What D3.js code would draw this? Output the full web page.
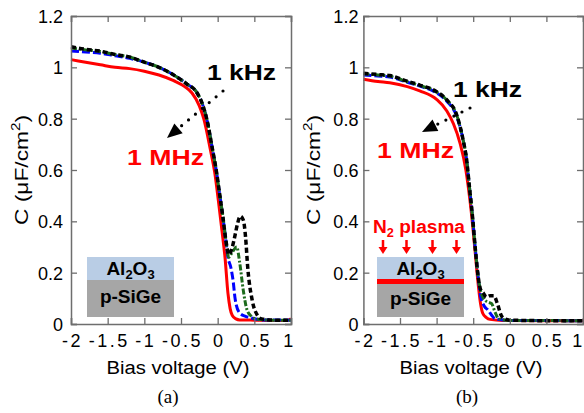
<!DOCTYPE html>
<html>
<head>
<meta charset="utf-8">
<script src="https://cdn.jsdelivr.net/npm/d3@7"></script>
<style>
  body { margin: 0; background: #fff; }
  svg { font-family: "Liberation Sans", Arial, sans-serif; }
</style>
</head>
<body>
<svg id="chart" width="584" height="413"></svg>
<script>
// Axis ticks shared by both panels
const xTicks = [-2, -1.5, -1, -0.5, 0, 0.5, 1];
const xTickLabels = ["-2", "-1.5", "-1", "-0.5", "0", "0.5", "1"];
const yTicks = [0, 0.2, 0.4, 0.6, 0.8, 1, 1.2];
const yTickLabels = ["0", "0.2", "0.4", "0.6", "0.8", "1", "1.2"];

// Panel (a): as-deposited Al2O3 / p-SiGe, C-V at four frequencies [bias V, C µF/cm²]
const aRed = [[-2,1.03],[-1.8,1.02],[-1.6,1.01],[-1.4,1.0],[-1.2,0.995],[-1.0,0.985],[-0.8,0.97],[-0.6,0.948],[-0.45,0.925],[-0.35,0.9],[-0.25,0.85],[-0.19,0.8],[-0.1,0.68],[-0.04,0.59],[0.01,0.48],[0.06,0.36],[0.1,0.26],[0.14,0.12],[0.17,0.06],[0.2,0.033],[0.25,0.02],[0.3,0.016],[0.5,0.015],[0.8,0.014],[0.95,0.014],[1.0,0.02]];
const aBlue = [[-2,1.064],[-1.8,1.06],[-1.6,1.055],[-1.4,1.045],[-1.2,1.035],[-1.0,1.02],[-0.8,1.0],[-0.6,0.97],[-0.42,0.935],[-0.28,0.9],[-0.2,0.85],[-0.15,0.8],[-0.07,0.68],[-0.02,0.6],[0.03,0.5],[0.07,0.42],[0.11,0.33],[0.14,0.26],[0.18,0.22],[0.21,0.17],[0.24,0.094],[0.3,0.043],[0.38,0.03],[0.44,0.025],[0.6,0.016],[1.0,0.015]];
const aGreen = [[-2,1.075],[-1.8,1.068],[-1.6,1.062],[-1.4,1.05],[-1.2,1.04],[-1.0,1.02],[-0.8,1.0],[-0.6,0.97],[-0.42,0.935],[-0.28,0.9],[-0.2,0.85],[-0.15,0.8],[-0.07,0.68],[-0.02,0.6],[0.03,0.5],[0.07,0.42],[0.11,0.33],[0.15,0.26],[0.2,0.28],[0.26,0.3],[0.3,0.24],[0.35,0.13],[0.4,0.055],[0.46,0.03],[0.52,0.02],[0.7,0.015],[1.0,0.015]];
const aBlack = [[-2,1.08],[-1.8,1.07],[-1.6,1.063],[-1.4,1.05],[-1.2,1.04],[-1.0,1.02],[-0.8,1.0],[-0.6,0.97],[-0.42,0.935],[-0.28,0.9],[-0.2,0.85],[-0.15,0.8],[-0.07,0.68],[-0.02,0.6],[0.03,0.5],[0.07,0.42],[0.11,0.33],[0.155,0.27],[0.2,0.3],[0.24,0.35],[0.27,0.39],[0.31,0.42],[0.35,0.405],[0.38,0.34],[0.41,0.22],[0.47,0.094],[0.54,0.035],[0.6,0.02],[0.8,0.015],[1.0,0.015]];

// Panel (b): N2-plasma treated interface
const bRed = [[-2,0.954],[-1.8,0.945],[-1.64,0.94],[-1.4,0.925],[-1.23,0.908],[-1.0,0.875],[-0.86,0.83],[-0.77,0.78],[-0.68,0.705],[-0.6,0.6],[-0.57,0.54],[-0.52,0.42],[-0.47,0.27],[-0.43,0.15],[-0.4,0.08],[-0.37,0.042],[-0.32,0.025],[-0.27,0.018],[-0.1,0.014],[0.5,0.013],[1.0,0.013]];
const bBlue = [[-2,0.97],[-1.8,0.966],[-1.64,0.962],[-1.4,0.942],[-1.23,0.927],[-1.0,0.9],[-0.86,0.868],[-0.72,0.805],[-0.64,0.72],[-0.59,0.64],[-0.55,0.53],[-0.51,0.42],[-0.47,0.29],[-0.43,0.18],[-0.4,0.11],[-0.35,0.07],[-0.3,0.055],[-0.25,0.035],[-0.2,0.02],[0,0.014],[1.0,0.013]];
const bGreen = [[-2,0.975],[-1.8,0.97],[-1.64,0.966],[-1.4,0.944],[-1.23,0.929],[-1.0,0.904],[-0.86,0.872],[-0.72,0.81],[-0.64,0.72],[-0.59,0.64],[-0.55,0.53],[-0.51,0.42],[-0.47,0.29],[-0.43,0.18],[-0.4,0.13],[-0.36,0.1],[-0.3,0.085],[-0.25,0.08],[-0.2,0.045],[-0.15,0.02],[0,0.014],[1.0,0.013]];
const bBlack = [[-2,0.977],[-1.8,0.972],[-1.64,0.968],[-1.4,0.946],[-1.23,0.931],[-1.0,0.905],[-0.86,0.873],[-0.72,0.81],[-0.64,0.72],[-0.59,0.64],[-0.55,0.53],[-0.51,0.42],[-0.47,0.29],[-0.43,0.18],[-0.4,0.135],[-0.36,0.12],[-0.32,0.105],[-0.27,0.11],[-0.22,0.11],[-0.17,0.08],[-0.12,0.035],[-0.07,0.02],[0,0.015],[0.5,0.013],[1.0,0.013]];

// Line styles, drawn high to low frequency so the 1 kHz curve sits on top
const seriesStyles = [
  { color: "#ff0000", dash: null,        width: 3 },
  { color: "#0000ff", dash: "8,3",       width: 3 },
  { color: "#1c6b1c", dash: "6,2,2,2",   width: 3 },
  { color: "#000000", dash: "5,3",       width: 3.5 }
];

const svg = d3.select("#chart");

function drawPanel(opt) {
  const x = d3.scaleLinear().domain([-2, 1]).range([opt.left, opt.right]);
  const y = d3.scaleLinear().domain([0, 1.2]).range([324, 16]);
  const g = svg.append("g");

  // Curves
  const line = d3.line().x(d => x(d[0])).y(d => y(d[1])).curve(d3.curveMonotoneX);
  opt.series.forEach((s, i) => {
    const st = seriesStyles[i];
    g.append("path").datum(s)
      .attr("d", line)
      .attr("fill", "none")
      .attr("stroke", st.color)
      .attr("stroke-width", st.width)
      .attr("stroke-dasharray", st.dash)
      .attr("stroke-linejoin", "round");
  });

  // Boxed frame with inward ticks
  const frameColor = "#6e6e6e";
  const styleAxis = sel => {
    sel.selectAll("path.domain").attr("stroke", frameColor).attr("stroke-width", 1.5);
    sel.selectAll(".tick line").attr("stroke", frameColor).attr("stroke-width", 1.3);
  };
  const bottom = g.append("g").attr("transform", `translate(0,${y(0)})`)
    .call(d3.axisBottom(x).tickValues(xTicks).tickSize(-6).tickPadding(10)
      .tickFormat((d, i) => xTickLabels[i]));
  bottom.call(styleAxis);
  bottom.selectAll("text").attr("font-size", 18).attr("fill", "#000")
    .style("letter-spacing", "2.5px")
    .attr("dx", (d, i) => i === xTicks.length - 1 ? opt.lastLabelDx : 1)
    .attr("y", 23).attr("dy", 0);
  g.append("g").attr("transform", `translate(0,${y(1.2)})`)
    .call(d3.axisTop(x).tickValues(xTicks).tickSize(-6).tickFormat(""))
    .call(styleAxis);
  const left = g.append("g").attr("transform", `translate(${x(-2)},0)`)
    .call(d3.axisLeft(y).tickValues(yTicks).tickSize(-6).tickPadding(opt.yPad)
      .tickFormat((d, i) => yTickLabels[i]));
  left.call(styleAxis);
  left.selectAll("text").attr("font-size", 18).attr("fill", "#000").attr("dy", "0.36em");
  g.append("g").attr("transform", `translate(${x(1)},0)`)
    .call(d3.axisRight(y).tickValues(yTicks).tickSize(-6).tickFormat(""))
    .call(styleAxis);
  g.selectAll(".tick text").style("font-family", "'Liberation Sans', Arial, sans-serif");

  // Axis titles
  g.append("text")
    .attr("x", opt.xTitleX).attr("y", 374)
    .attr("text-anchor", "middle").attr("font-size", 18)
    .attr("textLength", 143).attr("lengthAdjust", "spacingAndGlyphs")
    .text("Bias voltage (V)");
  const yt = g.append("text")
    .attr("transform", `translate(${opt.yTitleX},170) rotate(-90)`)
    .attr("text-anchor", "middle").attr("font-size", 18)
    .attr("textLength", 110).attr("lengthAdjust", "spacingAndGlyphs");
  yt.append("tspan").text("C (\u03bcF/cm");
  yt.append("tspan").attr("font-size", 12).attr("dy", -8).text("2");
  yt.append("tspan").attr("dy", 8).text(")");

  // Caption
  g.append("text")
    .attr("x", opt.captionX).attr("y", 403)
    .attr("text-anchor", "middle")
    .style("font-family", "'Liberation Serif', 'Times New Roman', serif")
    .attr("font-size", 19)
    .text(opt.caption);

  // Frequency labels and dotted arrow (1 kHz -> 1 MHz)
  g.append("text").attr("x", opt.kHz[0]).attr("y", opt.kHz[1])
    .attr("font-size", 22).attr("font-weight", "bold").attr("fill", "#000")
    .attr("textLength", 69).attr("lengthAdjust", "spacingAndGlyphs")
    .text("1 kHz");
  g.append("text").attr("x", opt.MHz[0]).attr("y", opt.MHz[1])
    .attr("font-size", 22).attr("font-weight", "bold").attr("fill", "#ff0000")
    .attr("textLength", 77).attr("lengthAdjust", "spacingAndGlyphs")
    .text("1 MHz");

  const [t0, t1] = opt.arrowTail, [h0, h1] = opt.arrowTip;
  const dx = h0 - t0, dy = h1 - t1, len = Math.hypot(dx, dy);
  const ux = dx / len, uy = dy / len, headL = 15, headW = 6.5;
  const bx = h0 - ux * headL, by = h1 - uy * headL;
  g.append("line")
    .attr("x1", t0).attr("y1", t1).attr("x2", bx).attr("y2", by)
    .attr("stroke", "#000").attr("stroke-width", 3.2)
    .attr("stroke-linecap", "round").attr("stroke-dasharray", "0,9");
  g.append("polygon")
    .attr("points", [[h0, h1], [bx - uy * headW, by + ux * headW], [bx + uy * headW, by - ux * headW]].map(p => p.join(",")).join(" "))
    .attr("fill", "#000");

  // Stack inset
  const ix = opt.insetX, iw = 87;
  g.append("rect").attr("x", ix).attr("y", 257).attr("width", iw).attr("height", 23).attr("fill", "#b9cde5");
  g.append("rect").attr("x", ix).attr("y", 280).attr("width", iw).attr("height", 37).attr("fill", "#a6a6a6");
  if (opt.plasma) {
    g.append("rect").attr("x", ix).attr("y", 279).attr("width", iw).attr("height", 5).attr("fill", "#ff0000");
    const pl = g.append("text").attr("x", ix - 4).attr("y", 233)
      .attr("font-size", 18).attr("font-weight", "bold").attr("fill", "#ff0000")
      .attr("textLength", 92).attr("lengthAdjust", "spacingAndGlyphs");
    pl.append("tspan").text("N");
    pl.append("tspan").attr("font-size", 12).attr("dy", 4).text("2");
    pl.append("tspan").attr("dy", -4).text(" plasma");
    [6, 29.5, 55.5, 79.5].forEach(off => {
      const ax = ix + off;
      g.append("line").attr("x1", ax).attr("y1", 240).attr("x2", ax).attr("y2", 248)
        .attr("stroke", "#ff0000").attr("stroke-width", 2.5);
      g.append("polygon")
        .attr("points", `${ax - 4.5},247 ${ax + 4.5},247 ${ax},254`)
        .attr("fill", "#ff0000");
    });
  }
  const al = g.append("text").attr("x", ix + iw / 2).attr("y", 275)
    .attr("text-anchor", "middle").attr("font-size", 19).attr("font-weight", "bold");
  al.append("tspan").text("Al");
  al.append("tspan").attr("font-size", 13).attr("dy", 4).text("2");
  al.append("tspan").attr("dy", -4).text("O");
  al.append("tspan").attr("font-size", 13).attr("dy", 4).text("3");
  g.append("text").attr("x", ix + iw / 2).attr("y", opt.plasma ? 305 : 303)
    .attr("text-anchor", "middle").attr("font-size", 19).attr("font-weight", "bold")
    .text("p-SiGe");
}

drawPanel({
  left: 71, right: 291, yPad: 8, series: [aRed, aBlue, aGreen, aBlack],
  xTitleX: 178, yTitleX: 28, caption: "(a)", captionX: 168, lastLabelDx: -2,
  kHz: [207, 80], MHz: [127, 165], arrowTail: [223, 91], arrowTip: [167, 138],
  insetX: 87, plasma: false
});
drawPanel({
  left: 363.4, right: 583, yPad: 5, series: [bRed, bBlue, bGreen, bBlack],
  xTitleX: 471, yTitleX: 320, caption: "(b)", captionX: 467, lastLabelDx: -5,
  kHz: [453, 97], MHz: [377, 158], arrowTail: [470, 108], arrowTip: [422, 132],
  insetX: 377, plasma: true
});
</script>
</body>
</html>
